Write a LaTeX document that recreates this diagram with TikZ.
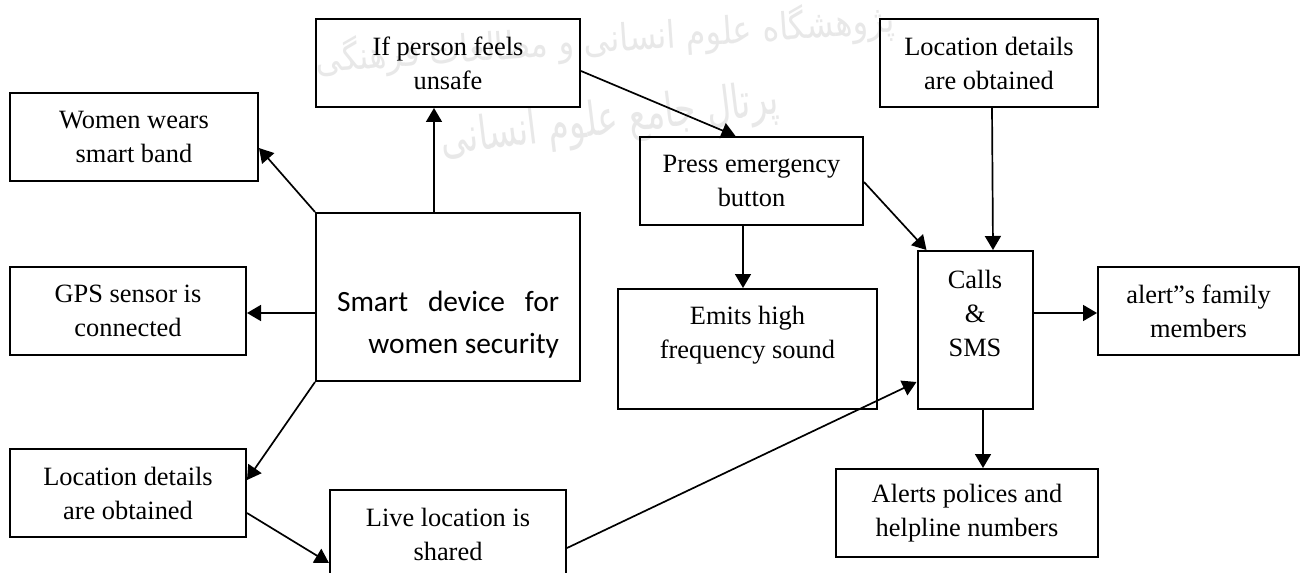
\documentclass[tikz,border=0pt]{standalone}
\usepackage{fontspec}
\usepackage{graphicx}
\setmainfont{Liberation Serif}
\newfontfamily\calfont{Carlito}
\newfontfamily\arabicfont[Script=Arabic]{DejaVu Sans}
\TeXXeTstate=1
\usetikzlibrary{arrows.meta,calc}
\begin{document}
\begin{tikzpicture}[x=0.5pt,y=-0.5pt,
  box/.style={draw,line width=1pt,inner sep=0pt,align=center,
    font=\fontsize{13.2pt}{17pt}\selectfont},
  conn/.style={line width=0.85pt,-{Triangle[length=7pt,width=8pt]}},
  wmark/.style={text=black!9,font=\arabicfont,inner sep=0pt}]
\useasboundingbox (0,0) rectangle (1304,572);
\clip (0,0) rectangle (1304,572);
\fill[white] (0,0) rectangle (1304,572);
% watermark
\node[wmark,rotate=4] (wm1) at (605,40) {\resizebox{290pt}{17pt}{\beginR پژوهشگاه علوم انسانی و مطالعات فرهنگی\endR}};
\node[wmark,rotate=7] (wm2) at (610,122) {\resizebox{170pt}{18pt}{\beginR پرتال جامع علوم انسانی\endR}};
% boxes
\node[box,minimum width=132pt,minimum height=44pt] (ifp) at (448,63) {If person feels\\unsafe};
\node[box,minimum width=124pt,minimum height=44pt] (women) at (134,137) {Women wears\\smart band};
\node[box,minimum width=132pt,minimum height=84pt] (smart) at (448,297)
  {\raisebox{-14pt}[\height][\depth]{\calfont\fontsize{14.7pt}{19.5pt}\selectfont
   \begin{tabular}{@{}r@{}}\hbox to 111pt{Smart\hfill device\hfill for}\\[1.5pt] women security\end{tabular}}};
\node[box,minimum width=118pt,minimum height=44pt] (gps) at (128,311) {GPS sensor is\\connected};
\node[box,minimum width=118pt,minimum height=44pt] (locl) at (128,493) {Location details\\are obtained};
\node[box,minimum width=118pt,minimum height=44pt] (live) at (448,534) {Live location is\\shared};
\node[box,minimum width=111.5pt,minimum height=44pt] (press) at (751.5,181) {Press emergency\\button};
\node[box,minimum width=129.5pt,minimum height=60pt] (emits) at (747.5,349) {Emits high\\frequency sound\\\phantom{X}};
\node[box,minimum width=109pt,minimum height=44pt] (locr) at (989,63) {Location details\\are obtained};
\node[box,minimum width=57.5pt,minimum height=79pt] (calls) at (975,330) {Calls\\\&\\SMS\\\phantom{X}};
\node[box,minimum width=100.5pt,minimum height=44pt] (alertf) at (1198.5,311) {alert”s family\\members};
\node[box,minimum width=131pt,minimum height=44pt] (alerts) at (967,513) {Alerts polices and\\helpline numbers};
% helper points
\coordinate (p1) at ($(smart.north)+(-14,0)$);
\coordinate (p2) at ($(press.north)+(-16,0)$);
\coordinate (p3) at ($(press.south)+(-8.5,0)$);
\coordinate (p4) at ($(calls.north)+(18,0)$);
\coordinate (p5) at ($(alertf.west)+(0,2)$);
\coordinate (p6) at ($(calls.south)+(8,0)$);
% connectors
\draw[conn] (smart.north west) -- ($(women.east)+(0,11)$);
\draw[conn] (p1) -- (ifp.south -| p1);
\draw[conn] ($(ifp.east)+(0,8)$) -- (p2);
\draw[conn] (p3) -- (emits.north -| p3);
\draw[conn] ($(press.east)+(0,1)$) -- ($(calls.north west)+(10,0)$);
\draw[conn] ($(locr.south)+(3,0)$) -- (p4);
\draw[conn] (calls.east |- p5) -- (p5);
\draw[conn] (p6) -- (alerts.north -| p6);
\draw[conn] ($(live.east)+(0,14)$) -- ($(calls.west)+(0,52)$);
\draw[conn] (smart.south west) -- ($(locl.east)+(0,-13)$);
\draw[conn] ($(locl.east)+(0,20)$) -- ($(live.west)+(0,29)$);
\draw[conn] ($(smart.west)+(0,16)$) -- ($(gps.east)+(0,2)$);
\end{tikzpicture}
\end{document}
